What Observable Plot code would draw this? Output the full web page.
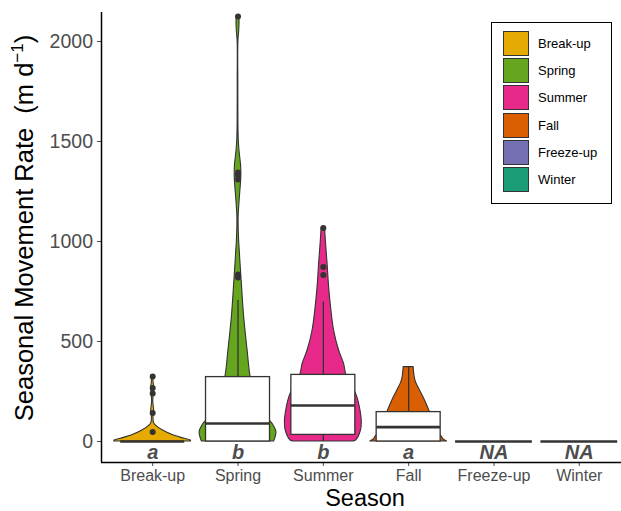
<!DOCTYPE html>
<html><head><meta charset="utf-8">
<script src="https://cdn.jsdelivr.net/npm/d3@7"></script>
<script src="https://cdn.jsdelivr.net/npm/@observablehq/plot@0.6"></script>
<style>
body{margin:0;background:#fff;}
#wrap{position:relative;width:621px;height:511px;font-family:"Liberation Sans",Arial,sans-serif;}
#legend{position:absolute;left:491px;top:22px;width:121px;height:182px;border:1.3px solid #000;box-sizing:border-box;background:#fff;}
.key{position:absolute;left:11px;width:26px;height:25px;border:1px solid #333;box-sizing:border-box;}
.lab{position:absolute;left:46px;font-size:13px;color:#000;line-height:25px;white-space:nowrap;}
</style></head><body><div id="wrap"><div id="legend"></div></div>
<script>
// ---- data ----
const seasons = ["Break-up","Spring","Summer","Fall","Freeze-up","Winter"];
const colors  = ["#E6AB02","#66A61E","#E7298A","#D95F02","#7570B3","#1B9E77"];
const letters = ["a","b","b","a","NA","NA"];
const yTicks  = [0,500,1000,1500,2000];

// violin profiles: value (m/d) and relative density (1 = full violin width)
const breakupV = [0,5,18,35,55,77,92,120,147,200,240,267,300,325];
const breakupD = [1.0,0.99,0.75,0.49,0.27,0.1,0.035,0.02,0.04,0.015,0.03,0.04,0.02,0.03];
const springV  = [0,47,88,110,150,200,260,322,455,622,788,905,955,1000,1100,1140,1250,1300,1340,1380,1450,1505,1600,1800,2000,2050,2100,2125];
const springD  = [0.94,1.0,0.9,0.8,0.68,0.55,0.43,0.33,0.25,0.16,0.1,0.06,0.045,0.03,0.015,0.02,0.06,0.08,0.087,0.08,0.04,0.02,0.01,0.008,0.01,0.03,0.04,0.03];
const summerV  = [0,5,55,105,172,222,280,333,388,455,555,655,772,888,1005,1068];
const summerD  = [0.78,0.85,0.98,1.0,0.95,0.885,0.75,0.6,0.54,0.41,0.28,0.21,0.15,0.11,0.065,0.045];
const fallV    = [0,12,25,40,100,147,205,255,297,330,372];
const fallD    = [1.0,0.9,0.86,0.8,0.65,0.555,0.425,0.295,0.19,0.15,0.13];

// box statistics per season (null = no data)
const q1      = [0,0,33,0,null,null];
const median  = [0,90,180,72,null,null];
const q3      = [0,322,333,147,null,null];
const whiskLo = [0,0,0,0,null,null];
const whiskHi = [0,705,697,372,null,null];
const breakupOut = [47,143,240,267,325];
const springOut  = [820,835,1310,1330,1345,2125];
const summerOut  = [833,872,1068];

// ---- tables ----
const profiles = [[breakupV,breakupD],[springV,springD],[summerV,summerD],[fallV,fallD]];
const violin = profiles.flatMap(([vs,ds],i)=>vs.map((v,k)=>({s:i+1,name:seasons[i],v,d:ds[k]})));
const boxes = seasons.map((name,i)=>({s:i+1,name,q1:q1[i],med:median[i],q3:q3[i],lo:whiskLo[i],hi:whiskHi[i]})).filter(d=>d.q1!==null);
const empty = seasons.map((name,i)=>({s:i+1,name,q1:q1[i]})).filter(d=>d.q1===null);
const outs = [[breakupOut,1],[springOut,2],[summerOut,3]].flatMap(([a,s])=>a.map(v=>({s,v})));
const lettersT = seasons.map((name,i)=>({s:i+1,t:letters[i]}));

const VW = 0.45, BW = 0.375, dark = "#333333";

const chart = Plot.plot({
  width: 621, height: 511,
  marginLeft: 101, marginRight: 0, marginTop: 12, marginBottom: 49,
  style: {fontFamily: '"Liberation Sans", Arial, sans-serif', background: "#fff", overflow: "hidden"},
  x: {type: "linear", domain: [0.4, 6.6], range: [101, 630]},
  y: {domain: [-105, 2145]},
  color: {domain: seasons, range: colors},
  marks: [
    Plot.areaX(violin, {y: "v", x1: d => d.s - d.d*VW, x2: d => d.s + d.d*VW, z: "s", fill: "name", stroke: dark, strokeWidth: 1.1, curve: "catmull-rom"}),
    Plot.ruleY(empty, {y: 0, x1: d => d.s - VW, x2: d => d.s + VW, stroke: dark, strokeWidth: 2.5}),
    Plot.ruleX(boxes, {x: "s", y1: "q3", y2: "hi", stroke: dark, strokeWidth: 1.3}),
    Plot.ruleX(boxes, {x: "s", y1: "lo", y2: "q1", stroke: dark, strokeWidth: 1.3}),
    Plot.rect(boxes, {x1: d => d.s - BW, x2: d => d.s + BW, y1: "q1", y2: "q3", fill: "white", stroke: dark, strokeWidth: 1.3}),
    Plot.ruleY(boxes, {y: "med", x1: d => d.s - BW, x2: d => d.s + BW, stroke: dark, strokeWidth: 2.6}),
    Plot.dot(outs, {x: "s", y: "v", r: 3, fill: dark, stroke: "none"}),
    Plot.text(lettersT, {x: "s", y: -55, text: "t", fontSize: 20, fontWeight: "bold", fontStyle: "italic", fill: "#4d4d4d"}),
    Plot.axisY({ticks: yTicks, tickFormat: d => String(d), tickSize: 4, tickPadding: 4.5, fontSize: 19.5, color: "#4d4d4d", label: null}),
    Plot.axisX({ticks: [1,2,3,4,5,6], tickFormat: i => seasons[i-1], tickSize: 4, tickPadding: 3.5, fontSize: 16, color: "#4d4d4d", label: null}),
    Plot.ruleX([0.4], {stroke: "#000", strokeWidth: 1.5}),
    Plot.ruleY([-105], {stroke: "#000", strokeWidth: 1.5})
  ]
});
document.getElementById("wrap").prepend(chart);

// axis titles
const svg = d3.select(chart);
const yt = svg.append("text")
  .attr("transform", "translate(33,228) rotate(-90)")
  .attr("text-anchor", "middle").attr("font-size", 25.5).attr("fill", "#000")
  .attr("xml:space", "preserve").style("white-space", "pre");
yt.append("tspan").text("Seasonal Movement Rate  (m d");
yt.append("tspan").attr("font-size", 17).attr("dy", -10).text("\u22121");
yt.append("tspan").attr("dy", 10).text(")");
svg.append("text").attr("x", 365).attr("y", 506).attr("text-anchor", "middle")
  .attr("font-size", 23.5).attr("fill", "#000").text("Season");

// legend
const lg = document.getElementById("legend");
seasons.forEach((s,i) => {
  const k = document.createElement("div");
  k.className = "key"; k.style.top = (7.7 + i*27.3) + "px"; k.style.background = colors[i];
  lg.appendChild(k);
  const l = document.createElement("div");
  l.className = "lab"; l.style.top = (7.7 + i*27.3) + "px"; l.textContent = s;
  lg.appendChild(l);
});
</script>
</body></html>
